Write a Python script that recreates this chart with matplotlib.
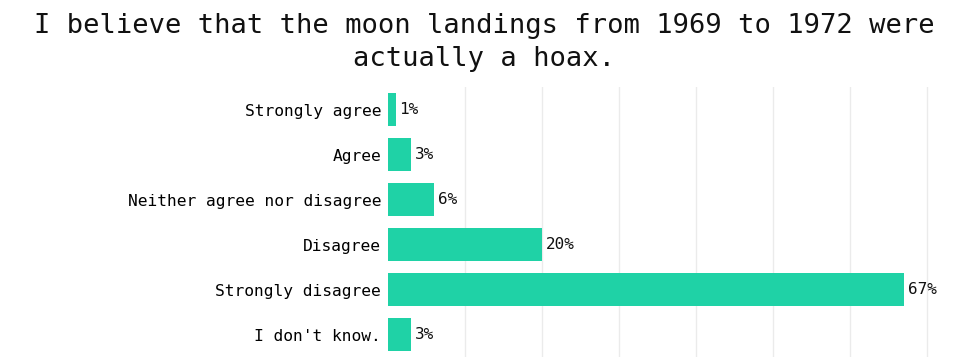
import matplotlib.pyplot as plt

categories = ["Strongly agree", "Agree", "Neither agree nor disagree",
              "Disagree", "Strongly disagree", "I don't know."]
values = [1, 3, 6, 20, 67, 3]
title = "I believe that the moon landings from 1969 to 1972 were\nactually a hoax."

plt.rcParams['font.family'] = ['DejaVu Sans Mono']

fig = plt.figure(figsize=(9.68, 3.57), dpi=100)
ax = fig.add_axes([0.4008, 0.0, 0.565, 0.756])

ax.barh(range(len(values)), values, height=0.74, color='#1fd2a6', zorder=2)
for i, v in enumerate(values):
    ax.text(v + 0.45, i, f"{v}%", va='center', ha='left', fontsize=11.5, color='#111111')

ax.set_yticks(range(len(categories)))
ax.set_yticklabels(categories, fontsize=11.7)
ax.set_ylim(len(values) - 0.5, -0.5)
ax.set_xlim(0, 71)
ax.set_xticks([10, 20, 30, 40, 50, 60, 70])
ax.set_xticklabels([])
ax.tick_params(length=0, pad=5)
ax.grid(axis='x', color='#ebebeb', linewidth=1, zorder=0)
for s in ax.spines.values():
    s.set_visible(False)

fig.text(0.5, 0.88, title, ha='center', va='center', fontsize=19.5,
         linespacing=1.35, color='#111111')

fig.savefig('out.png', dpi=100)
